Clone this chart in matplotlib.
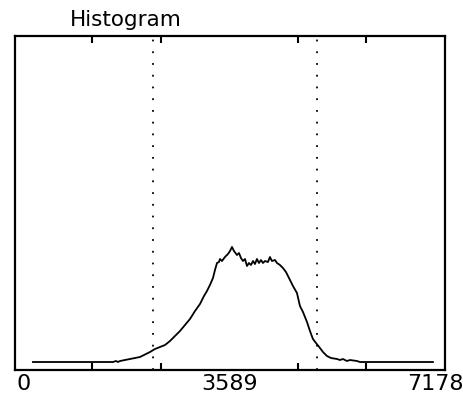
import numpy as np
import matplotlib.pyplot as plt

# histogram trace (bin value, count)
bins = [157, 1554, 1607, 1642, 1677, 1851, 2026, 2201, 2288, 2375, 2463, 2550,
        2637, 2725, 2812, 2899, 2987, 3074, 3144, 3196, 3248, 3301, 3336, 3371,
        3406, 3423, 3458, 3510, 3563, 3598, 3633, 3668, 3720, 3755, 3790, 3825,
        3860, 3895, 3930, 3965, 4000, 4034, 4069, 4104, 4139, 4174, 4209, 4261,
        4296, 4331, 4384, 4419, 4471, 4523, 4576, 4646, 4698, 4768, 4820, 4873,
        4943, 4995, 5047, 5100, 5170, 5222, 5292, 5362, 5467, 5519, 5571, 5641,
        5694, 5816, 5868, 7143]
counts = [0, 0, 10, 0, 10, 30, 50, 100, 130, 150, 170, 210,
          260, 310, 370, 430, 510, 580, 660, 710, 770, 840, 920, 990,
          1000, 1030, 1010, 1050, 1080, 1110, 1150, 1110, 1070, 1090, 1040, 1010,
          1030, 960, 990, 970, 1010, 980, 1030, 990, 1020, 990, 1010, 1000,
          1050, 1010, 1020, 990, 970, 940, 900, 820, 760, 690, 560, 500,
          400, 310, 230, 190, 140, 100, 60, 40, 30, 20, 30, 10,
          20, 10, 0, 0]
cut_lo = 2252
cut_hi = 5116
xmax = 7178
tick_labels = ['0', '3589', '7178']

fig = plt.figure(figsize=(4.64, 3.94), dpi=100)
ax = fig.add_axes([0.0323, 0.0609, 0.9267, 0.8477])
ax.plot(bins, counts, color='black', lw=1.3)
ax.axvline(cut_lo, color='black', lw=1.3, linestyle=(0, (1, 5.5)))
ax.axvline(cut_hi, color='black', lw=1.3, linestyle=(0, (1, 5.5)))
ax.set_xlim(-157, 7353)
ax.set_ylim(-80, 3260)

ax.set_xticks([0, xmax / 2, xmax])
ax.set_xticklabels(tick_labels, fontsize=16)
ax.set_xticks(np.arange(1, 7) * xmax / 6, minor=True)
ax.tick_params(axis='x', which='major', length=0, pad=3)
ax.tick_params(axis='x', which='minor', direction='in', length=5, width=1.5,
               top=True, bottom=True)
ax.set_yticks([])
for s in ax.spines.values():
    s.set_linewidth(1.6)

fig.text(70 / 464, 1 - 20 / 394, 'Histogram', fontsize=15.5, ha='left', va='center')
fig.savefig('out.png', dpi=100)
